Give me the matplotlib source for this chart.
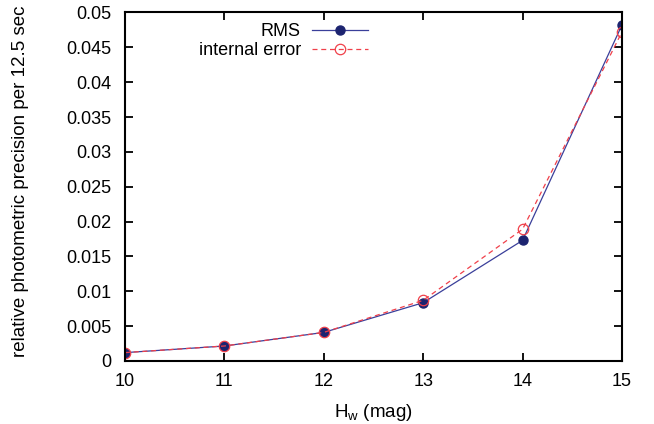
import matplotlib
matplotlib.use("Agg")
import matplotlib.pyplot as plt
import numpy as np

plt.rcParams['font.family'] = ['Liberation Sans', 'DejaVu Sans']

# H_w magnitude bins
mag = [10, 11, 12, 13, 14, 15]
# measured scatter and the pipeline's internal error estimate
rms = [0.0012, 0.00215, 0.0041, 0.00836, 0.0173, 0.0482]
internal = [0.0012, 0.00215, 0.0041, 0.0087, 0.0189, 0.0472]

fig = plt.figure(figsize=(6.54, 4.24), dpi=100)
ax = fig.add_axes([0.191, 0.1486, 0.760, 0.822])

ax.plot(mag, rms, '-', color='#3a3f9a', lw=0.9, marker='o', ms=6.5,
        mfc='#1c2470', mec='#1c2470', label='RMS')
ax.plot(mag, internal, '--', color='#f0404a', lw=0.9, dashes=(4, 3), marker='o', ms=7.5,
        mfc='none', mec='#f0404a', mew=0.9, label='internal error')

ax.set_xlim(10, 15)
ax.set_ylim(0, 0.05)
ax.set_xticks(mag)
yt = np.arange(0, 0.0501, 0.005)
ax.set_yticks(yt)
ax.set_yticklabels(['0'] + ['%g' % round(v, 3) for v in yt[1:]])

for s in ax.spines.values():
    s.set_linewidth(1.5)
ax.tick_params(direction='in', length=6, width=1.3, top=True, right=True,
               labelsize=13, pad=9)
ax.tick_params(axis='y', pad=10)

ax.set_xlabel('H$_\\mathregular{w}$ (mag)', fontsize=13.5, labelpad=8)
ax.set_ylabel('relative photometric precision per 12.5 sec', fontsize=13.5)
ax.yaxis.set_label_coords(-0.193, 0.516)

ax.legend(loc='upper right', bbox_to_anchor=(0.51, 1.0), frameon=False, markerfirst=False,
          fontsize=13, handlelength=3.1, handletextpad=0.6, labelspacing=0.1,
          borderaxespad=0.2)

fig.savefig('out.png', dpi=100)
